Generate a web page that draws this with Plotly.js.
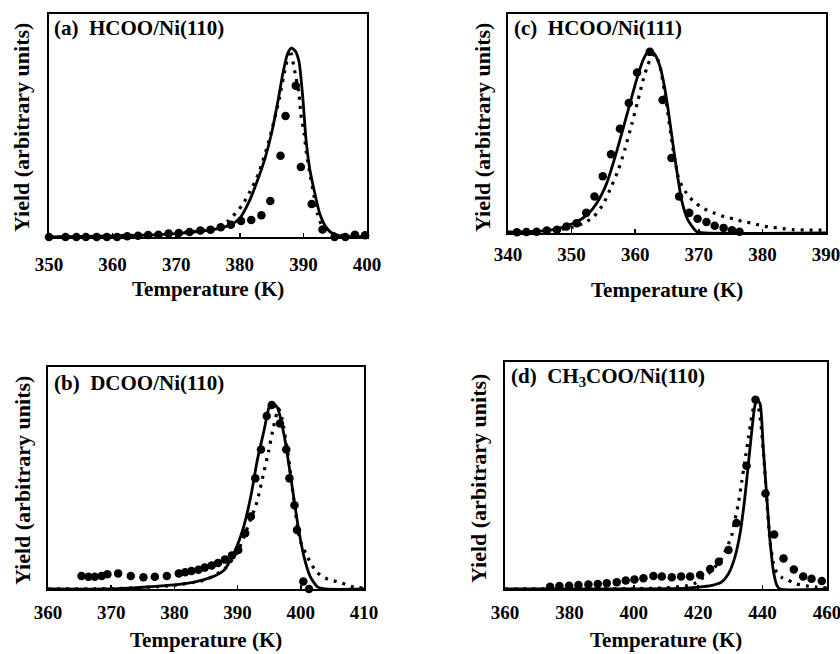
<!DOCTYPE html>
<html>
<head>
<meta charset="utf-8">
<script src="https://cdn.plot.ly/plotly-3.0.1.min.js"></script>
<style>html,body{margin:0;padding:0;background:#fff;}#chart{width:840px;height:654px;}</style>
</head>
<body>
<div id="chart"></div>
<script>
// ---------- Panel (a) HCOO/Ni(110) ----------
const aSolidT = [350, 355, 360, 365, 370, 373, 376, 378.5, 380, 381.5, 383, 384, 385, 386, 386.8, 387.5, 388.1, 388.7, 389.3, 389.9, 390.4, 391.0, 391.8, 392.6, 393.5, 394.5, 396, 400];
const aSolidY = [0, 0.003, 0.006, 0.01, 0.018, 0.027, 0.04, 0.063, 0.10, 0.19, 0.32, 0.42, 0.55, 0.72, 0.87, 0.97, 1.0, 0.985, 0.93, 0.74, 0.52, 0.36, 0.23, 0.12, 0.055, 0.02, 0.004, 0];
const aDotT = [350, 355, 360, 365, 370, 373, 376, 378, 380.4, 382, 383, 384.5, 386, 387.2, 387.9, 388.7, 389.3, 389.6, 390.1, 390.5, 391.1, 391.7, 392.2, 393, 394.6, 397, 400];
const aDotY = [0, 0.003, 0.006, 0.01, 0.02, 0.03, 0.045, 0.08, 0.17, 0.266, 0.34, 0.5, 0.7, 0.9, 0.99, 0.866, 0.76, 0.65, 0.55, 0.44, 0.32, 0.21, 0.125, 0.055, 0.02, 0.004, 0];
const aPtsT = [350, 352.6, 354.3, 355.8, 357.5, 359.1, 360.7, 362.3, 364, 365.6, 367.2, 368.8, 370.4, 372.1, 373.8, 375.4, 377, 378.6, 380.2, 381.8, 383.4, 384.8, 386.4, 387.2, 388.8, 389.6, 391.3, 393.0, 394.9, 396.6, 398.1, 399.7];
const aPtsY = [0, 0, 0, 0, 0, 0, 0, 0.004, 0.007, 0.011, 0.012, 0.018, 0.021, 0.026, 0.034, 0.039, 0.051, 0.065, 0.085, 0.09, 0.115, 0.19, 0.43, 0.64, 0.80, 0.37, 0.175, 0.04, 0, 0, 0.012, 0.009];
const aTicks = [350, 360, 370, 380, 390, 400];

// ---------- Panel (b) DCOO/Ni(110) ----------
const bSolidT = [360, 370, 373, 377, 380.4, 383.6, 386.2, 387.8, 388.9, 389.9, 391, 392.1, 393.1, 394.2, 395.0, 395.5, 396.3, 397.4, 398.4, 399.5, 400.5, 401.5, 402.6, 403.9, 410];
const bSolidY = [0, 0, 0.005, 0.014, 0.023, 0.041, 0.068, 0.10, 0.156, 0.23, 0.34, 0.50, 0.69, 0.855, 0.98, 1.0, 0.975, 0.82, 0.604, 0.353, 0.174, 0.066, 0.013, 0, 0];
const bDotT = [360, 370, 375, 380, 383, 385, 388, 390, 391, 392, 392.8, 393.3, 394.1, 394.9, 395.6, 396.2, 396.5, 397, 398, 399, 399.9, 400.8, 401.6, 402.6, 404.3, 405.7, 407.3, 408.4, 410];
const bDotY = [0, 0.002, 0.008, 0.02, 0.035, 0.05, 0.11, 0.2, 0.28, 0.37, 0.44, 0.5, 0.62, 0.74, 0.86, 0.945, 0.97, 0.92, 0.72, 0.45, 0.26, 0.19, 0.138, 0.088, 0.052, 0.04, 0.022, 0.01, 0.005];
const bPtsT = [365.3, 366.4, 367.4, 368.5, 369.4, 371.1, 373.1, 375.1, 376.9, 378.8, 380.7, 381.7, 382.7, 383.8, 384.8, 385.9, 386.9, 388.0, 389.1, 390.1, 391.2, 392.1, 392.8, 393.7, 394.6, 395.4, 396.7, 397.7, 398.2, 399.0, 399.4, 400.4, 401.3];
const bPtsY = [0.07, 0.066, 0.066, 0.07, 0.079, 0.084, 0.07, 0.063, 0.066, 0.07, 0.084, 0.09, 0.097, 0.104, 0.115, 0.127, 0.14, 0.158, 0.18, 0.21, 0.30, 0.39, 0.595, 0.75, 0.93, 0.99, 0.89, 0.75, 0.595, 0.45, 0.317, 0.04, 0.0];
const bTicks = [360, 370, 380, 390, 400, 410];

// ---------- Panel (c) HCOO/Ni(111) ----------
const cSolidT = [340, 343, 346, 348, 350.3, 352.4, 353.9, 355.5, 357.0, 358.6, 360.2, 361.3, 362.2, 363.0, 363.9, 364.6, 365.2, 366.2, 367.3, 368.3, 369.7, 371, 390];
const cSolidY = [0.005, 0.007, 0.013, 0.025, 0.053, 0.098, 0.16, 0.27, 0.435, 0.635, 0.836, 0.95, 1.0, 0.98, 0.91, 0.8, 0.67, 0.42, 0.18, 0.07, 0.007, 0, 0];
const cDotT = [340, 344, 347, 350, 352, 353.5, 355, 356.2, 357.3, 358.4, 359.5, 360.4, 361.2, 362.0, 362.7, 363.2, 363.9, 364.9, 365.9, 366.9, 367.9, 369.2, 370.9, 372.5, 374.0, 375.5, 377.0, 378.5, 380.1, 381.7, 383.2, 384.8, 387, 390];
const cDotY = [0.004, 0.008, 0.015, 0.03, 0.055, 0.09, 0.16, 0.25, 0.34, 0.46, 0.6, 0.72, 0.83, 0.92, 0.97, 0.975, 0.91, 0.71, 0.47, 0.29, 0.226, 0.171, 0.131, 0.108, 0.089, 0.077, 0.062, 0.053, 0.038, 0.031, 0.024, 0.018, 0.016, 0.015];
const cPtsT = [341.4, 342.9, 344.5, 346.1, 347.7, 349.2, 350.8, 352.3, 353.6, 354.9, 356.2, 357.6, 359.0, 360.3, 362.3, 364.3, 365.7, 366.9, 368.5, 369.8, 371.2, 372.5, 373.9, 375.2, 376.4];
const cPtsY = [0.004, 0.005, 0.007, 0.013, 0.018, 0.036, 0.053, 0.11, 0.20, 0.31, 0.43, 0.57, 0.71, 0.877, 0.99, 0.727, 0.41, 0.20, 0.11, 0.078, 0.06, 0.04, 0.028, 0.015, 0.007];
const cTicks = [340, 350, 360, 370, 380, 390];

// ---------- Panel (d) CH3COO/Ni(110) ----------
const dSolidT = [360, 400, 410, 416.4, 421.6, 424.7, 427.3, 429.4, 431.4, 433.0, 434.5, 436.1, 437.5, 438.2, 439.2, 440.2, 441.3, 442.3, 443.4, 444.4, 445.4, 460];
const dSolidY = [0, 0, 0.002, 0.005, 0.012, 0.02, 0.037, 0.08, 0.167, 0.29, 0.48, 0.74, 0.95, 0.99, 0.97, 0.74, 0.48, 0.255, 0.09, 0.02, 0, 0];
const dDotT = [360, 400, 410, 416, 419, 421.6, 424.7, 427.3, 429, 430.4, 431.4, 432.5, 433.5, 434.5, 435.6, 436.6, 437.2, 438.0, 438.6, 439.5, 440.5, 441.5, 442.3, 443.3, 444.4, 446, 447.8, 450.6, 453.7, 456.8, 460];
const dDotY = [0, 0.002, 0.006, 0.015, 0.03, 0.06, 0.105, 0.16, 0.22, 0.28, 0.36, 0.45, 0.56, 0.67, 0.79, 0.9, 0.95, 0.98, 0.96, 0.86, 0.66, 0.42, 0.25, 0.14, 0.085, 0.06, 0.047, 0.026, 0.016, 0.01, 0.005];
const dPtsT = [374.0, 376.9, 379.9, 382.8, 385.9, 388.8, 391.6, 394.7, 397.5, 400.2, 403.0, 406.1, 408.7, 411.8, 414.7, 417.5, 420.6, 423.7, 426.4, 429.4, 431.9, 435.0, 437.8, 440.9, 443.6, 446.5, 449.7, 452.6, 455.2, 458.4];
const dPtsY = [0.012, 0.016, 0.017, 0.021, 0.024, 0.026, 0.03, 0.035, 0.044, 0.05, 0.056, 0.068, 0.065, 0.061, 0.065, 0.065, 0.073, 0.105, 0.143, 0.204, 0.346, 0.645, 0.99, 0.50, 0.285, 0.16, 0.102, 0.065, 0.054, 0.042];
const dTicks = [360, 380, 400, 420, 440, 460];

// ---------- labels ----------
const panelLabels = ["(a)&nbsp; HCOO/Ni(110)", "(b)&nbsp; DCOO/Ni(110)", "(c)&nbsp; HCOO/Ni(111)", "(d)&nbsp; CH<sub>3</sub>COO/Ni(110)"];
const xTitle = "Temperature (K)";
const yTitle = "Yield (arbitrary units)";

const W = 840, H = 654;
const serif = "Liberation Serif, Times New Roman, serif";

const panels = [
  {sT:aSolidT, sY:aSolidY, dT:aDotT, dY:aDotY, pT:aPtsT, pY:aPtsY, ticks:aTicks, box:[49,367,14,237], ymax:1.18, so:9, label:panelLabels[0], lab:[52,28], xt:[208,289], yt:[22,128]},
  {sT:bSolidT, sY:bSolidY, dT:bDotT, dY:bDotY, pT:bPtsT, pY:bPtsY, ticks:bTicks, box:[48,364,367,589], ymax:1.194, so:5, label:panelLabels[1], lab:[52,383], xt:[206,640], yt:[22,481]},
  {sT:cSolidT, sY:cSolidY, dT:cDotT, dY:cDotY, pT:cPtsT, pY:cPtsY, ticks:cTicks, box:[508,826,14,233], ymax:1.197, so:3, label:panelLabels[2], lab:[512,28], xt:[667,290], yt:[482,127]},
  {sT:dSolidT, sY:dSolidY, dT:dDotT, dY:dDotY, pT:dPtsT, pY:dPtsY, ticks:dTicks, box:[505,827,362,589], ymax:1.188, so:5, label:panelLabels[3], lab:[509,377], xt:[666,640], yt:[478,479]}
];

const traces = [];
const layout = {
  width: W, height: H,
  margin: {l:0, r:0, t:0, b:0},
  paper_bgcolor: "#fff", plot_bgcolor: "#fff",
  showlegend: false,
  annotations: []
};

panels.forEach((p, i) => {
  const n = i === 0 ? "" : String(i + 1);
  const xa = "x" + n, ya = "y" + n;
  traces.push({x:p.sT, y:p.sY, xaxis:xa, yaxis:ya, mode:"lines", line:{color:"#000", width:2.8, shape:"spline", smoothing:0.6}, hoverinfo:"skip"});
  traces.push({x:p.dT, y:p.dY, xaxis:xa, yaxis:ya, mode:"lines", line:{color:"#000", width:3.2, dash:"3px,6px", shape:"spline", smoothing:0.6}, hoverinfo:"skip"});
  traces.push({x:p.pT, y:p.pY, xaxis:xa, yaxis:ya, mode:"markers", marker:{color:"#000", size:8.5, symbol:"circle"}, cliponaxis:false, hoverinfo:"skip"});

  const [l, r, t, b] = p.box;
  layout["xaxis" + n] = {
    domain:[l / W, r / W], anchor:ya, range:[p.ticks[0], p.ticks[p.ticks.length - 1]],
    tickmode:"array", tickvals:p.ticks, ticktext:p.ticks.map(v => "<b>" + v + "</b>"),
    showgrid:false, zeroline:false, showline:true, mirror:true, linecolor:"#000", linewidth:1.8,
    ticks:"inside", ticklen:4, tickwidth:1.5, tickcolor:"#000", ticklabelstandoff:p.so,
    ticklabeloverflow:"allow",
    tickfont:{family:serif, size:19, color:"#000"}, fixedrange:true
  };
  layout["yaxis" + n] = {
    domain:[1 - b / H, 1 - t / H], anchor:xa, range:[0, p.ymax],
    showgrid:false, zeroline:false, showline:true, mirror:true, linecolor:"#000", linewidth:1.8,
    ticks:"", showticklabels:false, fixedrange:true
  };
  layout.annotations.push({text:"<b>" + p.label + "</b>", xref:"paper", yref:"paper", x:p.lab[0] / W, y:1 - p.lab[1] / H, xanchor:"left", yanchor:"middle", showarrow:false, font:{family:serif, size:21, color:"#000"}});
  layout.annotations.push({text:"<b>" + xTitle + "</b>", xref:"paper", yref:"paper", x:p.xt[0] / W, y:1 - p.xt[1] / H, xanchor:"center", yanchor:"middle", showarrow:false, font:{family:serif, size:21, color:"#000"}});
  layout.annotations.push({text:"<b>" + yTitle + "</b>", xref:"paper", yref:"paper", x:p.yt[0] / W, y:1 - p.yt[1] / H, xanchor:"center", yanchor:"middle", textangle:-90, showarrow:false, font:{family:serif, size:22, color:"#000"}});
});

Plotly.newPlot("chart", traces, layout, {staticPlot:true, displayModeBar:false});
</script>
</body>
</html>
